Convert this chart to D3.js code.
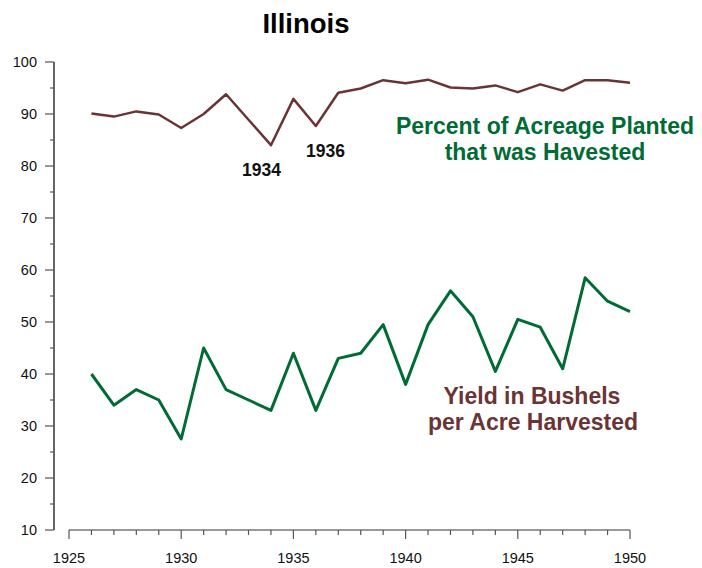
<!DOCTYPE html>
<html>
<head>
<meta charset="utf-8">
<script src="https://cdn.jsdelivr.net/npm/d3@7"></script>
<style>
  body { margin: 0; background: #fff; }
  svg { display: block; font-family: "Liberation Sans", Arial, sans-serif; }
</style>
</head>
<body>
<svg id="chart" width="702" height="568"></svg>
<script>
const years = [1926,1927,1928,1929,1930,1931,1932,1933,1934,1935,1936,1937,1938,1939,1940,1941,1942,1943,1944,1945,1946,1947,1948,1949,1950];
const pctHarvested = [90.1,89.5,90.5,89.9,87.3,90.0,93.8,88.9,84.0,92.9,87.7,94.1,94.9,96.5,95.9,96.6,95.1,94.9,95.5,94.2,95.7,94.5,96.5,96.5,96.0];
const yieldBu = [40,34,37,35,27.5,45,37,35,33,44,33,43,44,49.5,38,49.5,56,51,40.5,50.5,49,41,58.5,54,52];
const yTicks = [10,20,30,40,50,60,70,80,90,100];
const xTicks = [1925,1930,1935,1940,1945,1950];

const brown = "#6b3434";
const green = "#006b35";

const svg = d3.select("#chart");
const x = d3.scaleLinear().domain([1925,1950]).range([69,630]);
const y = d3.scaleLinear().domain([10,100]).range([530,62]);

// Y axis
const yAxis = svg.append("g").attr("transform","translate(54,0)");
yAxis.append("line").attr("x1",0).attr("x2",0).attr("y1",y(100)).attr("y2",y(10)).attr("stroke","#000").attr("stroke-width",1.2);
yAxis.selectAll(".minor").data(d3.range(15,100,10)).enter().append("line")
  .attr("x1",-4).attr("x2",0).attr("y1",d=>y(d)).attr("y2",d=>y(d)).attr("stroke","#555").attr("stroke-width",1.2);
yAxis.selectAll(".major").data(yTicks).enter().append("line")
  .attr("x1",-9).attr("x2",0).attr("y1",d=>y(d)).attr("y2",d=>y(d)).attr("stroke","#555").attr("stroke-width",1.2);
yAxis.selectAll("text").data(yTicks).enter().append("text")
  .attr("x",-17).attr("y",d=>y(d)).attr("dy","0.36em").attr("text-anchor","end")
  .attr("font-size","14.5px").attr("fill","#111").text(d=>d);

// X axis
const xAxis = svg.append("g").attr("transform","translate(0,530)");
xAxis.append("line").attr("x1",x(1925)).attr("x2",x(1950)).attr("y1",0).attr("y2",0).attr("stroke","#777").attr("stroke-width",1.5);
xAxis.selectAll(".minor").data(d3.range(1926,1950).filter(d=>d%5!==0)).enter().append("line")
  .attr("x1",d=>x(d)).attr("x2",d=>x(d)).attr("y1",0).attr("y2",5).attr("stroke","#555").attr("stroke-width",1.2);
xAxis.selectAll(".major").data(xTicks).enter().append("line")
  .attr("x1",d=>x(d)).attr("x2",d=>x(d)).attr("y1",0).attr("y2",9).attr("stroke","#555").attr("stroke-width",1.2);
xAxis.selectAll("text").data(xTicks).enter().append("text")
  .attr("x",d=>x(d)).attr("y",33).attr("text-anchor","middle")
  .attr("font-size","14.5px").attr("fill","#111").text(d=>d);

// Lines
const line = (vals) => d3.line().x((d,i)=>x(years[i])).y(d=>y(d))(vals);
svg.append("path").attr("d",line(pctHarvested)).attr("fill","none").attr("stroke",brown).attr("stroke-width",2.5).attr("stroke-linejoin","round");
svg.append("path").attr("d",line(yieldBu)).attr("fill","none").attr("stroke",green).attr("stroke-width",3).attr("stroke-linejoin","round");

// Title
svg.append("text").attr("x",306).attr("y",33).attr("text-anchor","middle")
  .attr("font-size","27.5px").attr("font-weight","bold").attr("fill","#000").text("Illinois");

// Labels
const lab = (tx, px, py, size, col) => svg.append("text").attr("x",px).attr("y",py).attr("text-anchor","middle")
  .attr("font-size",size).attr("font-weight","bold").attr("fill",col).text(tx);
lab("Percent of Acreage Planted", 545, 134, "23px", green);
lab("that was Havested", 545, 160, "23px", green);
lab("Yield in Bushels", 532, 404, "23px", brown);
lab("per Acre Harvested", 533, 430, "23px", brown);
lab("1934", 261.5, 176, "17.5px", "#111");
lab("1936", 325.5, 157, "17.5px", "#111");
</script>
</body>
</html>
